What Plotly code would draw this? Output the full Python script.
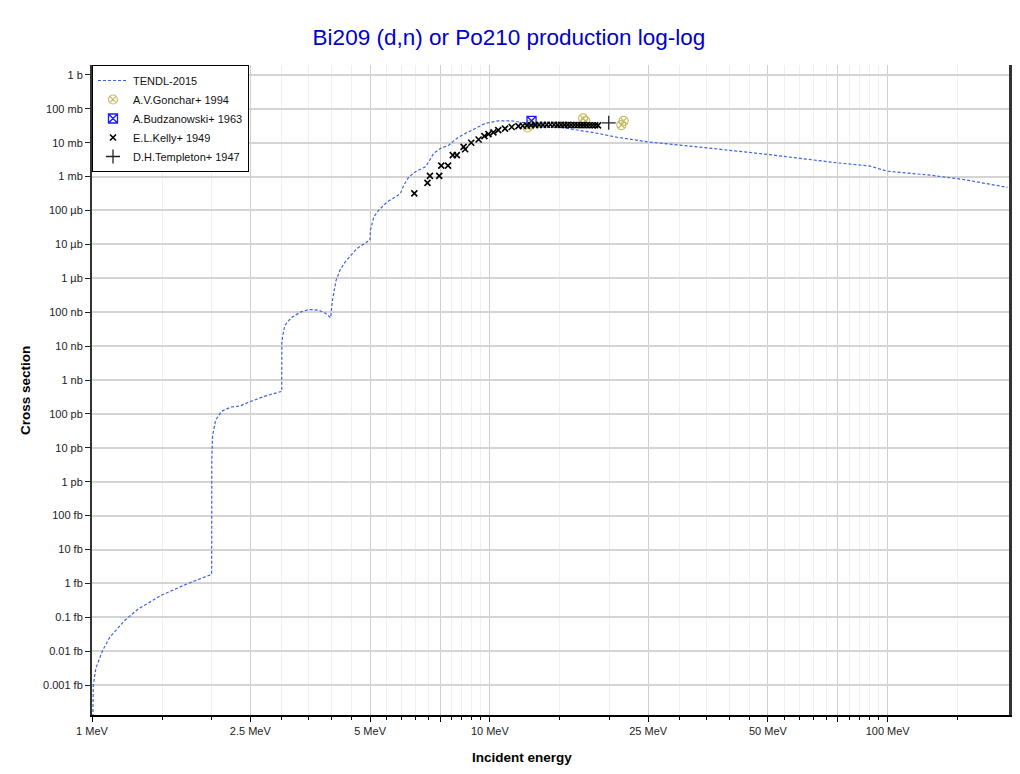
import plotly.graph_objects as go
import math

# TENDL-2015 evaluated cross section (energy in MeV, cross section in barns)
tendl_e = [1.0, 1.0075, 1.023, 1.064, 1.109, 1.209, 1.304, 1.494, 1.726, 1.999,
           2.0005, 2.01, 2.045, 2.116, 2.24, 2.35, 2.487, 2.71, 2.973, 2.999,
           3.0005, 3.013, 3.05, 3.095, 3.186, 3.35, 3.515, 3.72, 3.87, 3.98,
           4.02, 4.107, 4.202, 4.325, 4.48, 4.64, 4.94, 4.995,
           5.01, 5.11, 5.26, 5.52, 5.79, 5.96, 6.08, 6.26, 6.5, 6.89, 7.02, 7.22,
           7.51, 7.88, 8.26, 8.67, 9.19, 9.73, 10.5, 11.35, 12.26, 13.23, 14.85,
           16.67, 18.7, 21.0, 24.9, 33.3, 49.9, 74.6, 90.4, 99.6, 127.8, 155.0, 200.0]
tendl_xs = [1e-21, 1.0e-18, 3.2e-18, 1.07e-17, 2.6e-17, 8.2e-17, 1.73e-16, 4.5e-16, 9.5e-16, 1.86e-15,
            4.3e-12, 2.3e-11, 6.5e-11, 1.2e-10, 1.6e-10, 1.7e-10, 2.25e-10, 3.3e-10, 4.5e-10, 4.6e-10,
            1.2e-8, 1.9e-8, 3.9e-8, 5.1e-8, 7.2e-8, 1.02e-7, 1.2e-7, 1.15e-7, 9.1e-8, 6.9e-8,
            2.2e-7, 8.7e-7, 1.74e-6, 3.0e-6, 4.8e-6, 7.6e-6, 1.24e-5, 1.3e-5,
            2.6e-5, 6.5e-5, 1.02e-4, 1.79e-4, 2.5e-4, 3.2e-4, 5.6e-4, 9.8e-4, 1.38e-3, 1.94e-3, 2.7e-3, 4.8e-3,
            6.7e-3, 8.4e-3, 1.33e-2, 1.87e-2, 2.6e-2, 3.7e-2, 4.4e-2, 4.4e-2, 3.84e-2, 3.28e-2, 2.92e-2,
            2.34e-2, 1.87e-2, 1.42e-2, 1.06e-2, 7.5e-3, 4.5e-3, 2.54e-3, 2.03e-3, 1.44e-3, 1.1e-3, 8.2e-4, 4.8e-4]

# EXFOR measurements
gonchar_e = [12.44, 12.64, 17.16, 17.39, 21.4, 21.7]
gonchar_xs = [2.8e-2, 3.4e-2, 5.2e-2, 4.3e-2, 3.3e-2, 4.4e-2]

budz_e = [12.73]
budz_xs = [4.4e-2]

kelly_e = [6.46, 6.97, 7.07, 7.46, 7.55, 7.85, 8.07, 8.26, 8.59, 8.67, 8.98, 9.37, 9.69, 9.92,
           10.21, 10.5, 10.92, 11.35, 11.8, 12.1, 12.4, 12.7, 13.0, 13.3, 13.6, 13.9, 14.2, 14.5,
           14.8, 15.1, 15.4, 15.7, 16.0, 16.3, 16.6, 16.9, 17.2, 17.5, 17.8, 18.1, 18.4, 18.7]
kelly_xs = [3.2e-4, 6.5e-4, 1.05e-3, 1.05e-3, 2.1e-3, 2.1e-3, 4.3e-3, 4.3e-3, 7.5e-3, 6.4e-3, 9.9e-3,
            1.24e-2, 1.56e-2, 1.78e-2, 2.0e-2, 2.34e-2, 2.6e-2, 2.9e-2, 3.07e-2, 3.15e-2, 3.2e-2,
            3.25e-2, 3.3e-2, 3.33e-2, 3.35e-2, 3.36e-2, 3.37e-2, 3.36e-2, 3.35e-2, 3.35e-2, 3.34e-2,
            3.33e-2, 3.32e-2, 3.31e-2, 3.3e-2, 3.3e-2, 3.29e-2, 3.28e-2, 3.27e-2, 3.26e-2, 3.25e-2, 3.24e-2]

templeton_e = [19.9]
templeton_xs = [3.84e-2]

# axis ticks
x_major = [1, 2.5, 5, 7.5, 10, 25, 50, 75, 100]
x_major_text = ["1 MeV", "2.5 MeV", "5 MeV", "", "10 MeV", "25 MeV", "50 MeV", "", "100 MeV"]
x_minor = [1.5, 2, 3, 3.5, 4, 4.5, 5.5, 6, 6.5, 7, 8, 8.5, 9, 9.5,
           15, 20, 30, 35, 40, 45, 55, 60, 65, 70, 80, 85, 90, 95, 150]
y_major = [10.0 ** k for k in range(-18, 1)]
y_major_text = ["0.001 fb", "0.01 fb", "0.1 fb", "1 fb", "10 fb", "100 fb",
                "1 pb", "10 pb", "100 pb", "1 nb", "10 nb", "100 nb",
                "1 µb", "10 µb", "100 µb", "1 mb", "10 mb", "100 mb", "1 b"]

FONT = "Liberation Sans, Arial, sans-serif"

fig = go.Figure()
fig.add_trace(go.Scatter(x=tendl_e, y=tendl_xs, mode="lines", name="TENDL-2015",
                         line=dict(color="#3d63e0", width=1.2, dash="3px,2px")))
fig.add_trace(go.Scatter(x=gonchar_e, y=gonchar_xs, mode="markers", name="A.V.Gonchar+ 1994",
                         marker=dict(symbol="circle-x-open", size=9, color="#c4bb62",
                                     line=dict(width=1.2, color="#c4bb62"))))
fig.add_trace(go.Scatter(x=budz_e, y=budz_xs, mode="markers", name="A.Budzanowski+ 1963",
                         marker=dict(symbol="square-x-open", size=9, color="#1a1aff",
                                     line=dict(width=1.3, color="#1a1aff"))))
fig.add_trace(go.Scatter(x=kelly_e, y=kelly_xs, mode="markers", name="E.L.Kelly+ 1949",
                         marker=dict(symbol="x-thin", size=6, color="black",
                                     line=dict(width=1.6, color="black"))))
fig.add_trace(go.Scatter(x=templeton_e, y=templeton_xs, mode="markers", name="D.H.Templeton+ 1947",
                         marker=dict(symbol="cross-thin", size=10, color="#222",
                                     line=dict(width=1.3, color="#222"))))

# page body has an 8px margin, so the figure is offset by 8px
fig.update_layout(
    width=1004, height=758,
    margin=dict(l=84, r=2, t=57, b=51),
    paper_bgcolor="white", plot_bgcolor="white",
    font=dict(family=FONT, size=11, color="#222"),
    title=dict(text="Bi209 (d,n) or Po210 production log-log", x=0.499, xref="container",
               y=1 - 29 / 758, yref="container", yanchor="middle",
               font=dict(family=FONT, size=22.5, color="#0000cc")),
    legend=dict(x=0, y=1, xanchor="left", yanchor="top", bgcolor="white",
                bordercolor="black", borderwidth=1, font=dict(family=FONT, size=11, color="#111"),
                tracegroupgap=0),
    showlegend=True,
)

fig.update_xaxes(type="log", range=[0, math.log10(203)], automargin=False,
                 tickmode="array", tickvals=x_major, ticktext=x_major_text,
                 ticks="outside", ticklen=5, tickcolor="black", tickwidth=1,
                 showline=True, linecolor="black", linewidth=1.5,
                 showgrid=True, gridcolor="#cfcfcf", gridwidth=1,
                 minor=dict(tickvals=x_minor, ticks="outside", ticklen=3, tickcolor="black",
                            showgrid=True, gridcolor="#efefef", gridwidth=1),
                 zeroline=False)
fig.update_yaxes(type="log", range=[-18.88, 0.29], automargin=False,
                 tickmode="array", tickvals=y_major, ticktext=y_major_text,
                 ticks="outside", ticklen=5, tickcolor="#222", tickwidth=1,
                 showline=True, linecolor="#333", linewidth=2, mirror="ticks",
                 showgrid=True, gridcolor="#d4d4d4", gridwidth=1.5,
                 zeroline=False)

# right frame line
fig.add_shape(type="line", xref="paper", yref="paper", x0=1, x1=1, y0=0, y1=1,
              line=dict(color="#333", width=2), layer="above")

fig.add_annotation(text="<b>Cross section</b>", x=-0.073, y=0.5, xref="paper", yref="paper",
                   xanchor="center", yanchor="middle",
                   textangle=-90, showarrow=False, font=dict(family=FONT, size=13.5, color="black"))
fig.add_annotation(text="<b>Incident energy</b>", x=0.468, y=-0.066, xref="paper", yref="paper",
                   xanchor="center", yanchor="middle",
                   showarrow=False, font=dict(family=FONT, size=13.5, color="black"))

fig.write_html("out.html")
